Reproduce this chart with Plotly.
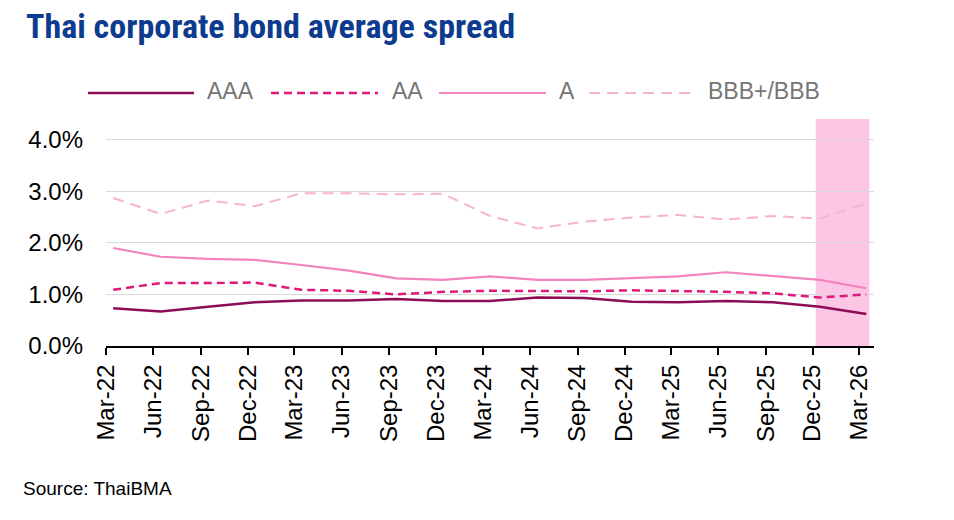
import subprocess
import pandas as pd
import plotly.graph_objects as go

# ---- data ----
labels = ["Mar-22", "Jun-22", "Sep-22", "Dec-22", "Mar-23", "Jun-23", "Sep-23", "Dec-23",
          "Mar-24", "Jun-24", "Sep-24", "Dec-24", "Mar-25", "Jun-25", "Sep-25", "Dec-25", "Mar-26"]
aaa = [0.73, 0.67, 0.76, 0.85, 0.88, 0.88, 0.91, 0.87, 0.87, 0.94, 0.93, 0.86, 0.85, 0.87, 0.85, 0.76, 0.62]
aa = [1.09, 1.22, 1.22, 1.23, 1.09, 1.07, 1.00, 1.05, 1.07, 1.06, 1.06, 1.08, 1.07, 1.05, 1.02, 0.94, 1.00]
a = [1.90, 1.73, 1.69, 1.67, 1.57, 1.46, 1.31, 1.28, 1.35, 1.28, 1.28, 1.31, 1.35, 1.43, 1.36, 1.28, 1.12]
bbb = [2.87, 2.56, 2.82, 2.71, 2.96, 2.96, 2.94, 2.95, 2.52, 2.28, 2.41, 2.49, 2.54, 2.45, 2.52, 2.47, 2.76]
series_names = ["AAA", "AA", "A", "BBB+/BBB"]
highlight = ("2025-12-07", "2026-03-21")
y_ticks = [0, 1, 2, 3, 4]
y_labels = [f"{v:.1f}%" for v in y_ticks]

# ---- styles ----
colors = ["#8C0C55", "#E0177C", "#F283BC", "#F8B3D4"]
widths = [2.5, 2.5, 2.2, 2.0]
dashes = ["solid", "8px,5px", "solid", "11px,7px"]
shade = "#FDC6E4"
FONT = "Liberation Sans, Arial, sans-serif"

# pick a condensed bold face for the title if one is installed
try:
    fams = subprocess.run(["fc-list", ":", "family"], capture_output=True, text=True).stdout
except Exception:
    fams = ""
if "Liberation Sans Narrow" in fams:
    title_font, title_size = "Liberation Sans Narrow", 35
elif "Roboto Condensed" in fams:
    title_font, title_size = "Roboto Condensed", 34
else:
    title_font, title_size = "Liberation Sans", 28

tick_dates = [pd.to_datetime(l, format="%b-%y") for l in labels]
point_dates = [d + pd.Timedelta(days=14) for d in tick_dates]

W, H = 954, 520
L, R, T, B = 106, 874, 119, 346


def px_x(p):
    return (p - L) / (R - L)


def px_y(p):
    return (B - p) / (B - T)


fig = go.Figure()
for name, vals, c, w, d in zip(series_names, [aaa, aa, a, bbb], colors, widths, dashes):
    fig.add_trace(go.Scatter(x=point_dates, y=vals, mode="lines", name=name,
                             line=dict(color=c, width=w, dash=d), showlegend=False))

shapes = [dict(type="rect", xref="x", yref="paper", x0=highlight[0], x1=highlight[1],
               y0=0, y1=1, fillcolor=shade, line=dict(width=0), layer="below")]

annotations = []
# manual legend
leg_lines = [(88, 194, 205), (271, 378, 390), (439, 546, 557), (589, 695, 706)]
for (x0, x1, tx), name, c, w, d in zip(leg_lines, series_names, colors, widths, dashes):
    shapes.append(dict(type="line", xref="paper", yref="paper", x0=px_x(x0), x1=px_x(x1),
                       y0=px_y(93), y1=px_y(93), line=dict(color=c, width=w, dash=d)))
    annotations.append(dict(text=name, xref="paper", yref="paper", x=px_x(tx), y=px_y(91),
                            xanchor="left", yanchor="middle", showarrow=False,
                            font=dict(family=FONT, size=23, color="#767676")))

annotations.append(dict(text="Thai corporate bond average spread", xref="paper", yref="paper",
                        x=px_x(24), y=px_y(26), xanchor="left", yanchor="middle", showarrow=False,
                        font=dict(family=title_font, size=title_size, color="#0D3B8E", weight="bold")))
annotations.append(dict(text="Source: ThaiBMA", xref="paper", yref="paper",
                        x=px_x(21), y=px_y(488), xanchor="left", yanchor="middle", showarrow=False,
                        font=dict(family=FONT, size=19, color="#000000")))

fig.update_layout(
    width=W, height=H,
    margin=dict(l=L, r=W - R, t=T, b=H - B, pad=0),
    paper_bgcolor="white", plot_bgcolor="white",
    shapes=shapes, annotations=annotations,
    font=dict(family=FONT, color="#000000"),
)
fig.update_xaxes(type="date", range=["2022-03-01", "2026-03-30"],
                 tickvals=tick_dates, ticktext=labels, tickangle=-90,
                 ticks="outside", ticklen=7, tickwidth=2, tickcolor="#000000",
                 showline=True, linecolor="#000000", linewidth=2, showgrid=False,
                 tickfont=dict(family=FONT, size=24, color="#000000"), zeroline=False)
fig.update_yaxes(range=[0, 4.4], tickvals=y_ticks, ticktext=y_labels,
                 showgrid=True, gridcolor="#D9D9D9", gridwidth=1, zeroline=False,
                 showline=False, ticks="", ticklabelstandoff=22,
                 tickfont=dict(family=FONT, size=24, color="#000000"))

fig.write_html("out.html")
